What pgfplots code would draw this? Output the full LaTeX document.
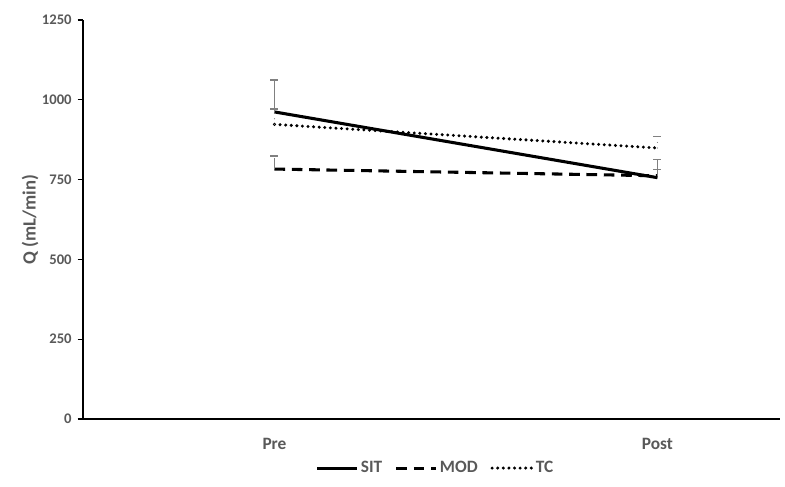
\documentclass[border=0pt]{standalone}
\usepackage{pgfplots}
\pgfplotsset{compat=1.18}
\usepackage{fontspec}
\setmainfont{Carlito}
\definecolor{txt}{HTML}{595959}
\definecolor{errc}{HTML}{808080}
\begin{document}
\begin{tikzpicture}
\begin{axis}[
  at={(62.25pt,50.25pt)}, anchor=south west,
  scale only axis,
  width=522.75pt, height=299.25pt,
  xmin=-0.5, xmax=1.32,
  ymin=0, ymax=1250,
  ytick={0,250,...,1250},
  xtick={0,1}, xticklabels={Pre,Post},
  axis x line=bottom, axis y line=left,
  axis line style={-, black, line width=1.1pt},
  x tick style={draw=none},
  y tick style={black, line width=0.8pt},
  tick align=outside,
  major tick length=4pt,
  ticklabel style={font=\fontsize{11}{13}\selectfont\bfseries, text=txt},
  yticklabel style={anchor=east, xshift=-1pt},
  xticklabel style={font=\fontsize{13}{15}\selectfont\bfseries, text=txt, anchor=center, yshift=-15pt},
  /pgf/number format/assume math mode=true,
  /pgf/number format/set thousands separator={},
  ylabel={Q (mL/min)},
  ylabel style={at={(axis description cs:-0.076,0.5)}, anchor=center, font=\fontsize{14}{16}\selectfont\bfseries, text=txt},
  clip=false,
  legend style={at={(0.5057,-0.123)}, anchor=center, draw=none, fill=none,
    legend columns=3, font=\fontsize{13}{15}\selectfont\bfseries, text=txt,
    /tikz/every even column/.append style={column sep=8pt},
    nodes={inner sep=1.5pt}},
  legend image code/.code={\draw[#1] (0pt,0pt) -- (30pt,0pt);},
  error bars/y dir=plus, error bars/y explicit,
  error bars/error bar style={errc, line width=0.9pt},
  error bars/error mark options={rotate=90, errc, mark size=3pt, line width=0.9pt},
]
\addplot[black, line width=2.3pt, mark=none] coordinates {(0,962) +- (0,100) (1,756) +- (0,58)};
\addlegendentry{SIT}
\addplot[black, line width=2.3pt, dash pattern=on 8pt off 5pt, mark=none] coordinates {(0,783) +- (0,41) (1,762) +- (0,20)};
\addlegendentry{MOD}
\addplot[black, line width=2.5pt, line cap=round, dash pattern=on 0pt off 4.2pt, mark=none] coordinates {(0,923) +- (0,48) (1,849) +- (0,35)};
\addlegendentry{TC}
\end{axis}
\pgfresetboundingbox
\path[use as bounding box] (0pt,0pt) rectangle (588.75pt,364.5pt);
\end{tikzpicture}
\end{document}
